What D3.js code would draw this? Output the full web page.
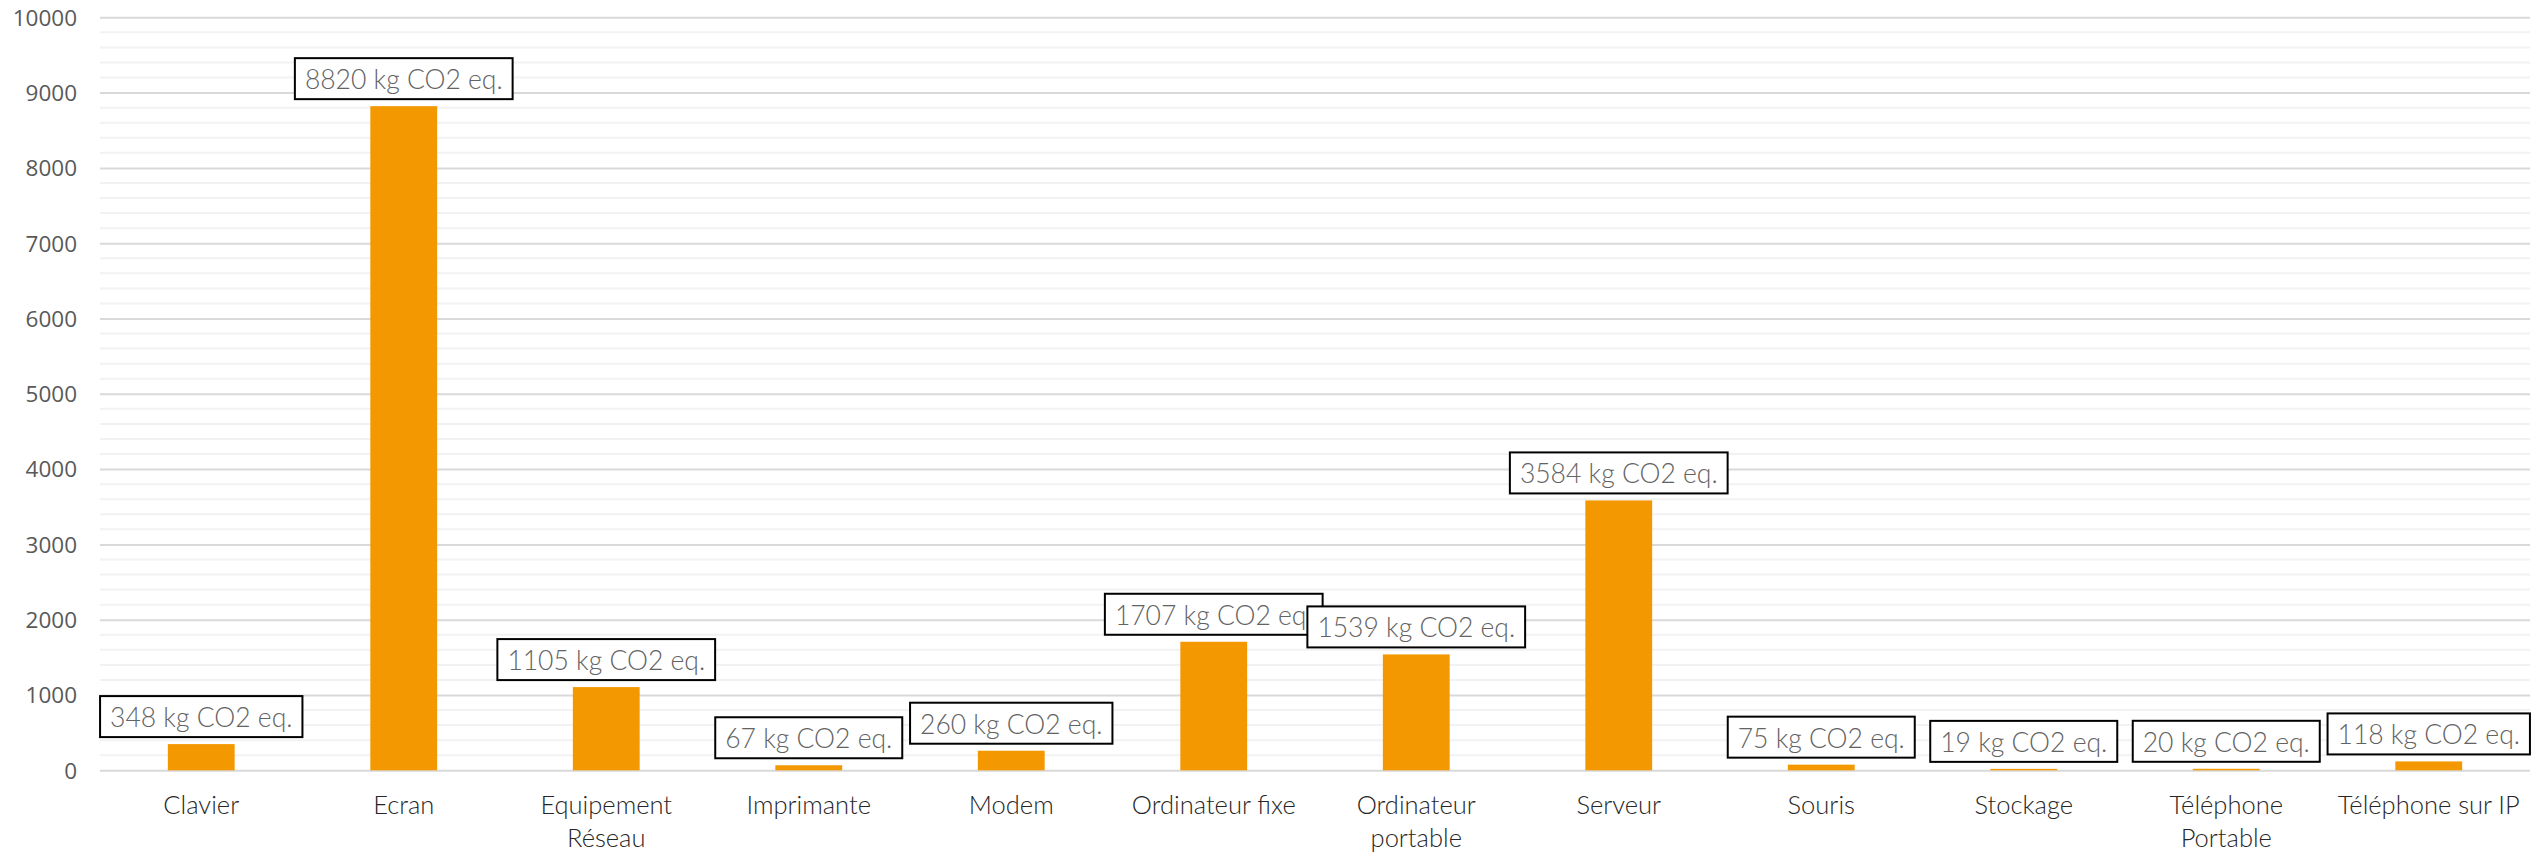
<!DOCTYPE html>
<html>
<head>
<meta charset="utf-8">
<script src="https://cdn.jsdelivr.net/npm/d3@7"></script>
<style>
  html, body { margin: 0; padding: 0; background: #ffffff; }
  svg { display: block; }
</style>
</head>
<body>
<svg id="chart" width="2534" height="854"></svg>
<script>
// ---- data ----
const categories = ["Clavier", "Ecran", "Equipement Réseau", "Imprimante", "Modem",
  "Ordinateur fixe", "Ordinateur portable", "Serveur", "Souris", "Stockage",
  "Téléphone Portable", "Téléphone sur IP"];
const categoryLines = [["Clavier"], ["Ecran"], ["Equipement", "Réseau"], ["Imprimante"], ["Modem"],
  ["Ordinateur fixe"], ["Ordinateur", "portable"], ["Serveur"], ["Souris"], ["Stockage"],
  ["Téléphone", "Portable"], ["Téléphone sur IP"]];
const values = [348, 8820, 1105, 67, 260, 1707, 1539, 3584, 75, 19, 20, 118];
const labelSuffix = " kg CO2 eq.";
const yTicks = [0, 1000, 2000, 3000, 4000, 5000, 6000, 7000, 8000, 9000, 10000];
const yMinorStep = 200;
const yMax = 10000;

// ---- layout ----
const W = 2534, H = 854;
const plot = { left: 100, right: 2530, top: 17.3, bottom: 770.3 };
const svg = d3.select("#chart");

const x = d3.scaleBand().domain(categories).range([plot.left, plot.right])
  .paddingInner(0.67).paddingOuter(0.335);
const y = d3.scaleLinear().domain([0, yMax]).range([plot.bottom, plot.top]);

// minor gridlines
const minor = d3.range(0, yMax + 1, yMinorStep).filter(v => v % 1000 !== 0);
svg.append("g").selectAll("line").data(minor).join("line")
  .attr("x1", plot.left).attr("x2", plot.right)
  .attr("y1", d => y(d)).attr("y2", d => y(d))
  .attr("stroke", "#f2f2f2").attr("stroke-width", 2);

// y axis (major gridlines + labels)
const yAxis = svg.append("g").attr("transform", `translate(${plot.left},0)`)
  .call(d3.axisLeft(y).tickValues(yTicks).tickSize(-(plot.right - plot.left)).tickPadding(23).tickFormat(d3.format("d")));
yAxis.select(".domain").remove();
yAxis.selectAll(".tick line").attr("stroke", "#d9d9d9").attr("stroke-width", 2);
yAxis.selectAll(".tick text")
  .attr("fill", "#595959")
  .style("font-family", "'Open Sans', 'Noto Sans', sans-serif")
  .style("font-size", "22.5px")
  .attr("dy", "0.35em");

// bars
svg.append("g").selectAll("rect").data(values).join("rect")
  .attr("x", (d, i) => x(categories[i]))
  .attr("width", x.bandwidth())
  .attr("y", d => y(d))
  .attr("height", d => y(0) - y(d))
  .attr("fill", "#f39800");

// x axis labels
const xAxis = svg.append("g").attr("transform", `translate(0,${plot.bottom})`)
  .call(d3.axisBottom(x).tickSize(0).tickFormat(""));
xAxis.select(".domain").remove();
xAxis.selectAll(".tick").each(function(d, i) {
  const t = d3.select(this).append("text")
    .attr("text-anchor", "middle")
    .attr("fill", "#262626")
    .style("font-family", "Lato, 'Open Sans', sans-serif")
    .style("font-weight", 300)
    .style("font-size", "25.5px");
  categoryLines[i].forEach((line, k) => {
    t.append("tspan").attr("x", 0).attr("y", 44 + k * 33).text(line);
  });
});

// data labels with boxes
const lbl = svg.append("g");
values.forEach((v, i) => {
  const cx = x(categories[i]) + x.bandwidth() / 2;
  const boxBottom = y(v) - 7;
  const g = lbl.append("g");
  const rect = g.append("rect");
  const txt = g.append("text")
    .attr("x", cx).attr("y", boxBottom - 10)
    .attr("text-anchor", "middle")
    .attr("fill", "#636363")
    .style("font-family", "Lato, 'Open Sans', sans-serif")
    .style("font-weight", 300)
    .style("font-size", "26.5px")
    .text(v + labelSuffix);
  const tw = txt.node().getComputedTextLength();
  const bw = tw + 20;
  rect.attr("x", cx - bw / 2).attr("y", boxBottom - 41)
    .attr("width", bw).attr("height", 41)
    .attr("fill", "#ffffff").attr("stroke", "#000000").attr("stroke-width", 2);
});
</script>
</body>
</html>
